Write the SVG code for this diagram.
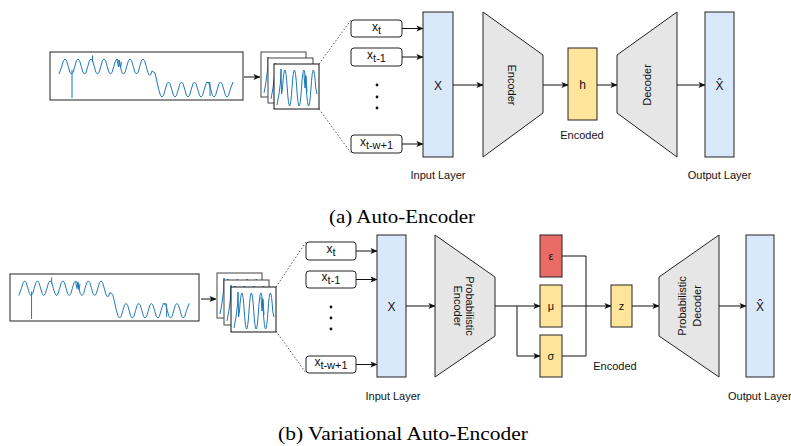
<svg xmlns="http://www.w3.org/2000/svg" xmlns:xlink="http://www.w3.org/1999/xlink" width="791" height="446" viewBox="0 0 791 446">
<style>
.t{font-family:"Liberation Sans",Arial,sans-serif;font-size:11px;fill:#111}
.x{font-family:"Liberation Sans",Arial,sans-serif;font-size:12px;fill:#111;text-anchor:middle}
.lbl{font-family:"Liberation Sans",Arial,sans-serif;font-size:12px;fill:#111;text-anchor:middle}
.cap{font-family:"Liberation Serif","Times New Roman",serif;font-size:19px;fill:#000}
.box{fill:#fff;stroke:#222;stroke-width:1}
.frame{fill:#fff;stroke:#222;stroke-width:1}
.layer{fill:#dae8fc;stroke:#222;stroke-width:1}
.trap{fill:#e6e6e6;stroke:#222;stroke-width:1}
.yel{fill:#ffe599;stroke:#222;stroke-width:1}
.red{fill:#ea6b66;stroke:#222;stroke-width:1}
.c{fill:none;stroke:#111;stroke-width:1}
.ca{fill:none;stroke:#111;stroke-width:1;marker-end:url(#ah)}
.dot{fill:none;stroke:#555;stroke-width:1;stroke-dasharray:1.5 2}
.sig{fill:none;stroke:#1f77b4;stroke-width:1}
</style>
<defs>
<marker id="ah" viewBox="0 0 8 8" refX="7.5" refY="4" markerWidth="7" markerHeight="7" markerUnits="userSpaceOnUse" orient="auto">
<path d="M0,0.5 L8,4 L0,7.5 L2,4 z" fill="#111"/>
</marker>
<path id="longsig" class="sig" d="M59 74 L61.75 66.5 q3.25 -15 6.5 0 t6.5 0 t6.5 0 t6.5 0 t6.5 0 t6.5 0 t6.5 0 t6.5 0 t6.5 0 t6.5 0 t6.5 0 t6.5 0 t6.5 0 Q149.5 81.5 152 71 L155 73 L158.75 89.5 q3.25 15 6.5 0 t6.5 0 t6.5 0 t6.5 0 t6.5 0 t6.5 0 t6.5 0 t6.5 0 t6.5 0 t6.5 0 t6.5 0 L233 82 M72 70 V98 M92.5 62 V55.5 M117 60 L118.5 67 L119.5 60 L120.5 68 L121.5 62 M206 82.5 H210 V96"/>
<g id="win">
<rect width="45" height="45" fill="#fff"/>
<path class="sig" d="M3 41 L5 30 L6.5 18 L7 5 L7.6 30 L8.5 24 q2.4 -36 4.75 0 t4.75 0 t4.75 0 t4.75 0 t4.75 0 t4.75 0 t4.75 0 L43 30 M30 10 L31 24 L32 12 L33 28"/>
</g>
</defs>

<!-- ===== (a) Auto-Encoder ===== -->
<g id="a-series">
<rect class="frame" x="50" y="52" width="193" height="48"/>
<use xlink:href="#longsig" href="#longsig"/>
</g>
<g id="a-windows">
<use xlink:href="#win" href="#win" x="261" y="52" stroke="#444"/>
<use xlink:href="#win" href="#win" x="268" y="58" stroke="#444"/>
<use xlink:href="#win" href="#win" x="274" y="64" stroke="#111"/>
</g>
<g id="a-xt">
<rect class="box" x="351" y="20" width="51" height="17" rx="3"/>
<text class="x" x="376.5" y="30.5">x<tspan font-size="11" dy="3">t</tspan></text>
</g>
<g id="a-xt1">
<rect class="box" x="351" y="48" width="51" height="18" rx="3"/>
<text class="x" x="376.5" y="58.5">x<tspan font-size="11" dy="3">t-1</tspan></text>
</g>
<g id="a-dots">
<circle cx="377" cy="85" r="1.4" fill="#111"/>
<circle cx="377" cy="97" r="1.4" fill="#111"/>
<circle cx="377" cy="108" r="1.4" fill="#111"/>
</g>
<g id="a-xtw">
<rect class="box" x="351" y="135" width="51" height="18" rx="3"/>
<text class="x" x="376.5" y="145.5">x<tspan font-size="11" dy="3">t-w+1</tspan></text>
</g>
<g id="a-input">
<rect class="layer" x="423" y="12" width="30" height="145"/>
<text class="lbl" x="438" y="89.5">X</text>
<text class="t" x="438" y="179" text-anchor="middle">Input Layer</text>
</g>
<g id="a-encoder">
<polygon class="trap" points="483,12 543,55 543,113 483,157"/>
<text class="t" text-anchor="middle" transform="translate(512,85) rotate(90)" y="4">Encoder</text>
</g>
<g id="a-h">
<rect class="yel" x="568" y="48" width="29" height="72"/>
<text class="lbl" x="582.5" y="89">h</text>
<text class="t" x="582" y="139" text-anchor="middle">Encoded</text>
</g>
<g id="a-decoder">
<polygon class="trap" points="617,55 677,12 677,157 617,113"/>
<text class="t" text-anchor="middle" transform="translate(647,85) rotate(-90)" y="4">Decoder</text>
</g>
<g id="a-output">
<rect class="layer" x="705" y="12" width="29" height="145"/>
<text class="lbl" x="719.5" y="89.5">X&#x302;</text>
<text class="t" x="719.5" y="179" text-anchor="middle">Output Layer</text>
</g>
<text class="cap" x="329" y="223" textLength="146" lengthAdjust="spacingAndGlyphs">(a) Auto-Encoder</text>

<!-- ===== (b) Variational Auto-Encoder ===== -->
<g id="b-series">
<rect class="frame" x="10" y="274" width="189" height="47"/>
<use xlink:href="#longsig" href="#longsig" transform="translate(10,274) scale(0.979) translate(-50,-52)"/>
</g>
<g id="b-windows">
<use xlink:href="#win" href="#win" x="217" y="273" stroke="#444"/>
<use xlink:href="#win" href="#win" x="224" y="280" stroke="#444"/>
<use xlink:href="#win" href="#win" x="231" y="287" stroke="#111"/>
</g>
<g id="b-xt">
<rect class="box" x="306" y="242" width="50" height="18" rx="3"/>
<text class="x" x="331" y="252.5">x<tspan font-size="11" dy="3">t</tspan></text>
</g>
<g id="b-xt1">
<rect class="box" x="306" y="271" width="50" height="17" rx="3"/>
<text class="x" x="331" y="281">x<tspan font-size="11" dy="3">t-1</tspan></text>
</g>
<g id="b-dots">
<circle cx="331" cy="307" r="1.4" fill="#111"/>
<circle cx="331" cy="318" r="1.4" fill="#111"/>
<circle cx="331" cy="329" r="1.4" fill="#111"/>
</g>
<g id="b-xtw">
<rect class="box" x="306" y="356" width="50" height="17" rx="3"/>
<text class="x" x="331" y="366">x<tspan font-size="11" dy="3">t-w+1</tspan></text>
</g>
<g id="b-input">
<rect class="layer" x="377" y="235" width="29" height="142"/>
<text class="lbl" x="391.5" y="310.5">X</text>
<text class="t" x="393" y="400" text-anchor="middle">Input Layer</text>
</g>
<g id="b-encoder">
<polygon class="trap" points="435,235 495,277 495,336 435,377"/>
<text class="t" text-anchor="middle" transform="translate(463.5,306) rotate(90)"><tspan x="0" y="-2">Probabilistic</tspan><tspan x="0" y="10">Encoder</tspan></text>
</g>
<g id="b-eps">
<rect class="red" x="540" y="235" width="22" height="42"/>
<text class="t" x="551" y="260" text-anchor="middle">ε</text>
</g>
<g id="b-mu">
<rect class="yel" x="540" y="285" width="22" height="42"/>
<text class="t" x="551" y="310" text-anchor="middle">μ</text>
</g>
<g id="b-sigma">
<rect class="yel" x="540" y="335" width="22" height="42"/>
<text class="t" x="551" y="360" text-anchor="middle">σ</text>
</g>
<g id="b-z">
<rect class="yel" x="611" y="285" width="21" height="42"/>
<text class="t" x="621.5" y="310" text-anchor="middle">z</text>
<text class="t" x="615" y="370" text-anchor="middle">Encoded</text>
</g>
<g id="b-decoder">
<polygon class="trap" points="659,277 719,235 719,377 659,336"/>
<text class="t" text-anchor="middle" transform="translate(689,306) rotate(-90)"><tspan x="0" y="-3.5">Probabilistic</tspan><tspan x="0" y="11.5">Decoder</tspan></text>
</g>
<g id="b-output">
<rect class="layer" x="746" y="235" width="28" height="142"/>
<text class="lbl" x="760" y="310.5">X&#x302;</text>
<text class="t" x="728" y="400">Output Layer</text>
</g>
<text class="cap" x="278" y="440" textLength="250" lengthAdjust="spacingAndGlyphs">(b) Variational Auto-Encoder</text>

<!-- ===== connectors ===== -->
<g id="connectors">
<path class="ca" d="M244 77 H260"/>
<path class="dot" d="M319 64 L351 20"/>
<path class="dot" d="M319 109 L351 153"/>
<path class="ca" d="M402 28.5 H423"/>
<path class="ca" d="M402 57 H423"/>
<path class="ca" d="M402 144 H423"/>
<path class="ca" d="M453 85 H483"/>
<path class="ca" d="M543 85 H568"/>
<path class="ca" d="M597 85 H617"/>
<path class="ca" d="M677 85 H705"/>

<path class="ca" d="M201 299 H216"/>
<path class="dot" d="M276 287 L306 242"/>
<path class="dot" d="M276 331 L306 373"/>
<path class="ca" d="M356 251 H377"/>
<path class="ca" d="M356 279.5 H377"/>
<path class="ca" d="M356 364.5 H377"/>
<path class="ca" d="M406 306 H435"/>
<path class="ca" d="M495 306 H540"/>
<path class="ca" d="M517 306 V356 H540"/>
<path class="c" d="M562 256 H586 V306"/>
<path class="c" d="M562 356 H586 V306"/>
<path class="ca" d="M562 306 H611"/>
<path class="ca" d="M632 306 H659"/>
<path class="ca" d="M719 306 H746"/>
</g>
</svg>
